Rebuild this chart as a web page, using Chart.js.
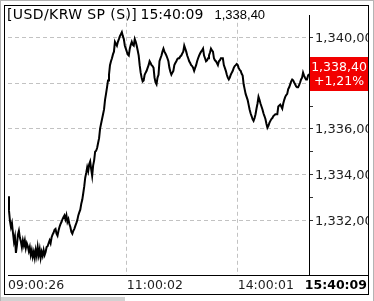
<!DOCTYPE html>
<html>
<head>
<meta charset="utf-8">
<script src="https://cdn.jsdelivr.net/npm/chart.js@4"></script>
<style>
    html, body { margin: 0; padding: 0; background: #fff; }
    #outer { position: relative; width: 374px; height: 301px; box-sizing: border-box; border: 1px solid #b4b4b4; border-bottom: none; overflow: hidden; }
    #frame { position: absolute; left: 3px; top: 4px; width: 363px; height: 288px; border: 1px solid #000; }
    #tabs { position: absolute; left: 0; top: 296px; width: 124px; height: 5px; background: #d2d2d2; }
    canvas { display: block; }
</style>
</head>
<body>
<div id="outer">
    <div id="frame"><canvas id="fxChart" width="363" height="288"></canvas></div>
    <div id="tabs"></div>
</div>
<script>
const SYMBOL = "[USD/KRW SP (S)]";
const LAST_TIME = "15:40:09";
const CHANGE_PCT = 1.21;

// x ticks: position in the sample sequence and their time labels
const TIME_TICKS = [0, 120, 232];
const TIME_LABELS = ["09:00:26", "11:00:02", "14:00:01"];

const Y_TICKS = [1332, 1333, 1334, 1335, 1336, 1337, 1338, 1339, 1340];

// intraday price samples
const PRICES = [
    1333.05, 1332.42, 1331.96, 1331.70, 1331.87, 1331.45, 1331.07, 1331.28, 1330.57, 1330.90,
    1331.37, 1331.54, 1331.24, 1331.07, 1330.82, 1331.11, 1330.90, 1331.11, 1330.78, 1330.99,
    1330.86, 1330.65, 1330.82, 1330.48, 1330.69, 1330.40, 1330.61, 1330.35, 1330.69, 1330.44,
    1330.82, 1330.48, 1330.73, 1330.35, 1330.61, 1330.44, 1330.69, 1330.48, 1330.61, 1330.82,
    1330.86, 1330.99, 1331.11, 1330.99, 1331.24, 1331.37, 1331.45, 1331.58, 1331.62, 1331.41,
    1331.32, 1331.54, 1331.70, 1331.83, 1331.92, 1332.04, 1332.13, 1332.21, 1332.04, 1332.21,
    1331.92, 1332.04, 1331.83, 1331.70, 1331.49, 1331.41, 1331.54, 1331.62, 1331.75, 1331.87,
    1332.00, 1332.21, 1332.34, 1332.46, 1332.72, 1332.89, 1333.18, 1333.48, 1333.86, 1334.07,
    1334.32, 1334.15, 1334.45, 1334.57, 1334.24, 1333.94, 1334.40, 1334.62, 1335.00, 1335.04,
    1335.16, 1335.38, 1335.59, 1336.01, 1336.22, 1336.43, 1336.64, 1336.85, 1337.27, 1337.53,
    1337.82, 1338.12, 1338.37, 1338.79, 1338.96, 1339.09, 1339.26, 1339.38, 1339.81, 1339.72,
    1339.64, 1339.81, 1339.93, 1340.06, 1340.14, 1340.23, 1340.06, 1339.93, 1339.64, 1339.51,
    1339.38, 1339.26, 1339.21, 1339.51, 1339.68, 1339.81, 1339.68, 1339.64, 1339.93, 1339.81,
    1339.64, 1339.43, 1339.21, 1338.79, 1338.46, 1338.24, 1338.08, 1338.12, 1338.37, 1338.46,
    1338.54, 1338.67, 1338.79, 1338.96, 1338.88, 1338.79, 1338.75, 1338.67, 1338.24, 1338.03,
    1337.95, 1338.24, 1338.37, 1338.96, 1339.09, 1339.21, 1339.38, 1339.51, 1339.38, 1339.30,
    1339.21, 1339.09, 1338.96, 1338.67, 1338.50, 1338.37, 1338.46, 1338.54, 1338.79, 1338.88,
    1338.96, 1339.05, 1339.09, 1339.09, 1339.17, 1339.21, 1339.30, 1339.38, 1339.64, 1339.51,
    1339.38, 1339.21, 1339.09, 1338.96, 1338.88, 1338.79, 1338.75, 1338.67, 1338.54, 1338.67,
    1338.79, 1338.96, 1339.09, 1339.21, 1339.30, 1339.38, 1339.43, 1339.51, 1339.21, 1339.09,
    1338.96, 1339.00, 1339.09, 1339.21, 1339.34, 1339.51, 1339.43, 1339.38, 1339.09, 1339.00,
    1338.96, 1338.88, 1338.79, 1338.96, 1339.00, 1339.09, 1339.09, 1339.09, 1338.79, 1338.67,
    1338.54, 1338.37, 1338.24, 1338.16, 1338.24, 1338.37, 1338.46, 1338.54, 1338.67, 1338.75,
    1338.79, 1338.84, 1338.79, 1338.67, 1338.58, 1338.54, 1338.41, 1338.33, 1337.95, 1337.74,
    1337.53, 1337.40, 1337.27, 1337.06, 1336.85, 1336.68, 1336.56, 1336.43, 1336.35, 1336.47,
    1336.64, 1336.89, 1337.11, 1337.40, 1337.27, 1337.11, 1336.98, 1336.85, 1336.68, 1336.56,
    1336.43, 1336.22, 1336.05, 1336.13, 1336.26, 1336.35, 1336.43, 1336.47, 1336.56, 1336.60,
    1336.64, 1336.64, 1336.64, 1336.98, 1337.02, 1337.06, 1336.98, 1336.89, 1337.11, 1337.27,
    1337.40, 1337.48, 1337.53, 1337.74, 1337.82, 1337.95, 1338.08, 1338.16, 1338.12, 1338.03,
    1337.95, 1337.86, 1337.82, 1337.82, 1337.91, 1338.03, 1338.16, 1338.24, 1338.46, 1338.33,
    1338.24, 1338.16, 1338.16, 1338.33, 1338.40
];

const GRID_COLOR = "#c2c2c2";
const TEXT_COLOR = "#1e1e1e";
const AXIS_FONT = { family: "DejaVu Sans", size: 12.5 };

// 1340 -> "1,340,00" (the terminal shows the decimal mark as a comma)
function fmtPrice(v) {
    return v.toLocaleString("en-US", { minimumFractionDigits: 2, maximumFractionDigits: 2 }).replace(/\.(\d\d)$/, ",$1");
}

const overlay = {
    id: "overlay",
    afterDraw(chart) {
        const { ctx, chartArea, scales } = chart;
        const W = chart.width;
        const last = PRICES[PRICES.length - 1];

        ctx.save();

        // extend the bottom separator across the price panel
        ctx.strokeStyle = "#000";
        ctx.lineWidth = 1;
        ctx.beginPath();
        ctx.moveTo(chartArea.right, Math.round(chartArea.bottom) + 0.5);
        ctx.lineTo(W, Math.round(chartArea.bottom) + 0.5);
        ctx.stroke();

        // header
        ctx.fillStyle = "#000";
        ctx.textBaseline = "alphabetic";
        ctx.textAlign = "left";
        ctx.font = "14px 'DejaVu Sans'";
        ctx.letterSpacing = "0.4px";
        ctx.fillText(SYMBOL, 2, 13);
        ctx.letterSpacing = "0px";
        ctx.fillText(LAST_TIME, 135.5, 13);
        ctx.font = "13px 'Liberation Sans'";
        ctx.fillText(fmtPrice(last), 209.5, 13);

        // last price tag
        const py = scales.y.getPixelForValue(last);
        const x0 = chartArea.right + 1;
        ctx.fillStyle = "#f20000";
        ctx.fillRect(x0, Math.round(py) - 17, W - x0, 34);
        ctx.fillStyle = "#fff";
        ctx.textAlign = "center";
        ctx.textBaseline = "middle";
        ctx.font = "12.5px 'DejaVu Sans'";
        const cx = (x0 + W) / 2;
        ctx.fillText(fmtPrice(last), cx, py - 6);
        ctx.fillText("+" + CHANGE_PCT.toFixed(2).replace(".", ",") + "%", cx, py + 8);

        // last time on the x strip
        ctx.fillStyle = "#000";
        ctx.textAlign = "right";
        ctx.font = "bold 12.5px 'DejaVu Sans'";
        ctx.fillText(LAST_TIME, W - 1, chartArea.bottom + 3 + 7.5);

        ctx.restore();
    }
};

const points = PRICES.map((p, i) => ({ x: i, y: p }));

new Chart(document.getElementById("fxChart"), {
    type: "line",
    data: {
        datasets: [{
            data: points,
            borderColor: "#000",
            borderWidth: 2,
            pointRadius: 0,
            tension: 0
        }]
    },
    options: {
        responsive: false,
        animation: false,
        layout: { padding: 0 },
        plugins: { legend: { display: false }, tooltip: { enabled: false } },
        scales: {
            x: {
                type: "linear",
                min: 0,
                max: PRICES.length - 1,
                afterBuildTicks: s => { s.ticks = TIME_TICKS.map(v => ({ value: v })); },
                afterFit: s => { s.height = 19; },
                grid: {
                    color: c => (c.tick && c.tick.value === 0) ? "rgba(0,0,0,0)" : GRID_COLOR,
                    drawTicks: false
                },
                border: { display: true, color: "#000", dash: [4, 3] },
                ticks: {
                    autoSkip: false,
                    maxRotation: 0,
                    align: "start",
                    padding: 3,
                    color: TEXT_COLOR,
                    font: AXIS_FONT,
                    callback: v => TIME_LABELS[TIME_TICKS.indexOf(v)]
                }
            },
            y: {
                position: "right",
                min: 1329.6,
                max: 1340.95,
                afterBuildTicks: s => { s.ticks = Y_TICKS.map(v => ({ value: v })); },
                afterFit: s => { s.width = 59; },
                grid: {
                    color: c => (c.tick && c.tick.value % 2 === 0) ? GRID_COLOR : "rgba(0,0,0,0)",
                    tickColor: "#333",
                    tickLength: 4,
                    tickBorderDash: []
                },
                border: { display: true, color: "#000", dash: [4, 3] },
                ticks: {
                    padding: 2,
                    color: TEXT_COLOR,
                    font: { family: "DejaVu Sans", size: 13 },
                    labelOffset: 1,
                    callback: v => v % 2 === 0 ? fmtPrice(v) : ""
                }
            }
        }
    },
    plugins: [overlay]
});
</script>
</body>
</html>
